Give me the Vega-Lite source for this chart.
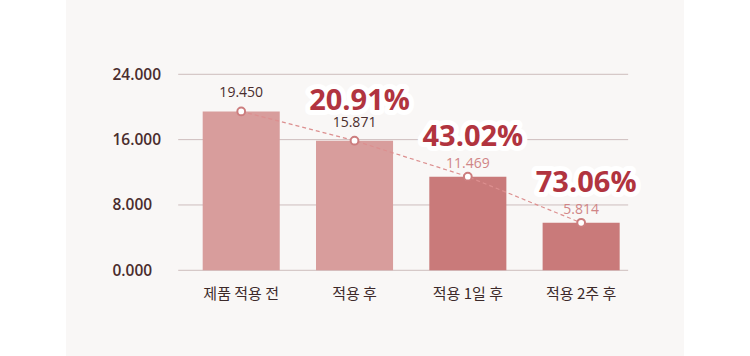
{
  "$schema": "https://vega.github.io/schema/vega-lite/v6.json",
  "width": 618,
  "height": 356,
  "autosize": {"type": "none"},
  "padding": {"left": 66, "right": 66, "top": 0, "bottom": 0},
  "background": "#ffffff",
  "config": {
    "view": {"fill": "#f9f7f6", "stroke": null},
    "axisY": {
      "title": null, "grid": false, "domain": false, "ticks": false, "tickSize": 0,
      "labelAlign": "left", "labelPadding": -46, "labelBaseline": "middle",
      "labelFont": "Open Sans", "labelFontSize": 15.5, "labelFontWeight": 600,
      "labelColor": "#4a2d2d", "labelFlush": false, "labelBound": false, "labelOverlap": false
    },
    "axisX": {
      "title": null, "grid": false, "domain": false, "ticks": false, "tickSize": 0,
      "labelAngle": 0, "labelPadding": -63, "labelBaseline": "middle",
      "labelFont": "Noto Sans CJK KR", "labelFontSize": 15, "labelFontWeight": 400,
      "labelColor": "#3d2a2a", "labelFlush": false, "labelBound": false, "labelOverlap": false
    }
  },
  "datasets": {
    "results": [
      {"stage": "제품 적용 전", "value": 19.450, "reduction": null},
      {"stage": "적용 후", "value": 15.871, "reduction": "20.91%"},
      {"stage": "적용 1일 후", "value": 11.469, "reduction": "43.02%"},
      {"stage": "적용 2주 후", "value": 5.814, "reduction": "73.06%"}
    ],
    "ticks": [{"tick": 0}, {"tick": 8}, {"tick": 16}, {"tick": 24}]
  },
  "data": {"name": "results"},
  "encoding": {
    "x": {
      "field": "stage", "type": "nominal",
      "scale": {"domain": ["제품 적용 전", "적용 후", "적용 1일 후", "적용 2주 후"], "paddingInner": 0.32, "paddingOuter": 0.887, "align": 0.68},
      "axis": {"title": null}
    },
    "y": {
      "field": "value", "type": "quantitative",
      "scale": {"domain": [-10.494, 33.098], "nice": false, "zero": false},
      "axis": {"title": null, "values": [0, 8, 16, 24], "format": ".3f"}
    }
  },
  "layer": [
    {
      "data": {"name": "ticks"},
      "mark": {"type": "rule", "color": "#cdbdbd", "strokeWidth": 1, "xOffset": -63, "x2Offset": 47},
      "encoding": {
        "x": {"datum": "제품 적용 전", "type": "nominal"},
        "x2": {"datum": "적용 2주 후"},
        "y": {"field": "tick", "type": "quantitative", "axis": {"title": null, "values": [0, 8, 16, 24], "format": ".3f"}}
      }
    },
    {
      "mark": {"type": "bar"},
      "encoding": {
        "color": {"condition": {"test": "datum.value > 15", "value": "#d89d9c"}, "value": "#c97a7a"}
      }
    },
    {
      "mark": {"type": "line", "color": "#dc8f8f", "strokeDash": [4, 3], "strokeWidth": 1.2},
      "encoding": {}
    },
    {
      "mark": {"type": "circle", "size": 60, "fill": "#ffffff", "stroke": "#cc7d7e", "strokeWidth": 2, "opacity": 1},
      "encoding": {}
    },
    {
      "transform": [{"filter": "datum.value > 15"}],
      "mark": {"type": "text", "font": "Open Sans", "fontSize": 14, "fontWeight": 500, "color": "#4a2d2d", "dy": -18, "baseline": "middle"},
      "encoding": {"text": {"field": "value", "type": "quantitative", "format": ".3f"}}
    },
    {
      "transform": [{"filter": "datum.value <= 15"}],
      "mark": {"type": "text", "font": "Open Sans", "fontSize": 14, "fontWeight": 500, "color": "#d08586", "dy": -13, "baseline": "middle"},
      "encoding": {"text": {"field": "value", "type": "quantitative", "format": ".3f"}}
    },
    {
      "transform": [{"filter": "datum.reduction != null"}],
      "mark": {"type": "text", "font": "Open Sans", "fontSize": 29, "fontWeight": 700, "fill": "#ffffff", "stroke": "#ffffff", "strokeWidth": 10, "strokeJoin": "round", "dy": -40, "dx": 5, "baseline": "middle"},
      "encoding": {"text": {"field": "reduction", "type": "nominal"}}
    },
    {
      "transform": [{"filter": "datum.reduction != null"}],
      "mark": {"type": "text", "font": "Open Sans", "fontSize": 29, "fontWeight": 700, "fill": "#b1343f", "dy": -40, "dx": 5, "baseline": "middle"},
      "encoding": {"text": {"field": "reduction", "type": "nominal"}}
    }
  ]
}
